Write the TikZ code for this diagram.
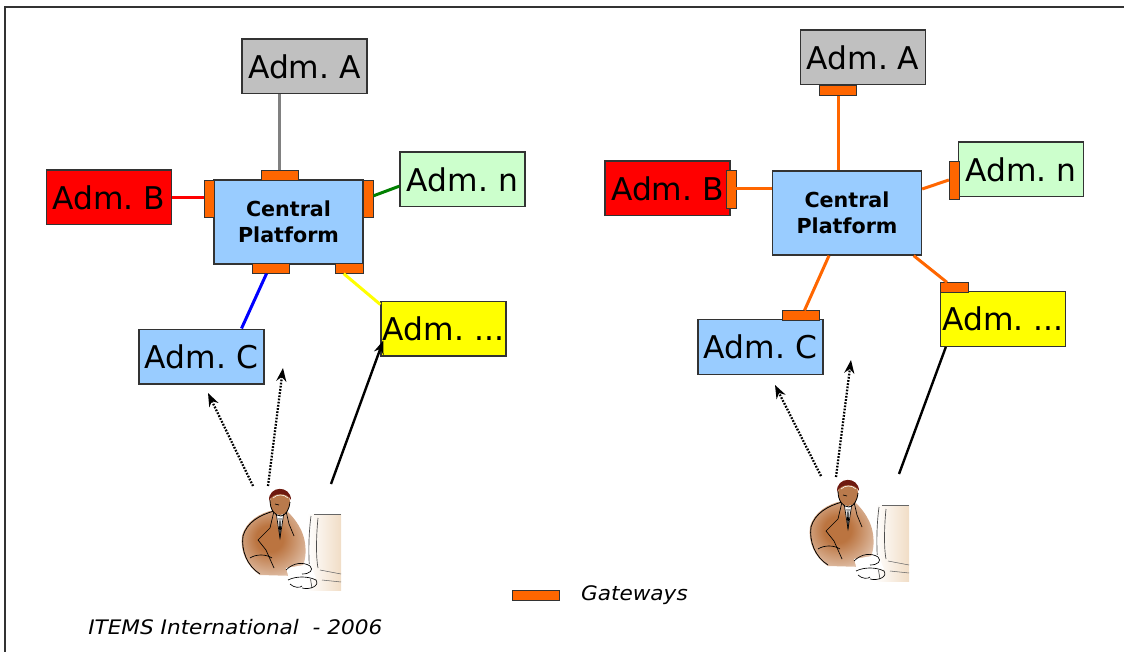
\documentclass[tikz,border=0pt]{standalone}
\usepackage{fontspec}
\setmainfont{DejaVu Sans}
\newfontfamily\notefont[FakeStretch=1.08]{DejaVu Sans}
\usetikzlibrary{positioning, arrows.meta, calc}

\definecolor{boxline}{HTML}{333333}
\definecolor{admgray}{HTML}{C0C0C0}
\definecolor{admred}{HTML}{FF0000}
\definecolor{admgreen}{HTML}{CCFFCC}
\definecolor{platblue}{HTML}{99CCFF}
\definecolor{admyellow}{HTML}{FFFF00}
\definecolor{gateorange}{HTML}{FF6600}
\definecolor{jacket}{HTML}{BB7440}
\definecolor{skin}{HTML}{B97A4C}
\definecolor{hair}{HTML}{6E1A10}
\definecolor{screen}{HTML}{F1DDC6}

\pgfdeclareradialshading{jacketglow}{\pgfpoint{-4bp}{4bp}}{%
  color(0bp)=(jacket); color(10bp)=(jacket); color(26bp)=(jacket!55);
  color(40bp)=(white); color(60bp)=(white)}

\tikzset{
  adm/.style={draw=boxline, line width=1pt, minimum width=93.75pt, minimum height=41pt,
    inner sep=0pt, font=\fontsize{23.5}{28}\selectfont},
  central/.style={draw=boxline, fill=platblue, line width=1pt, minimum width=111.75pt,
    minimum height=63pt, inner sep=0pt, align=center,
    font=\bfseries\fontsize{15.5}{19.5}\selectfont},
  gateh/.style={draw=boxline, fill=gateorange, line width=0.7pt, minimum width=27.75pt,
    minimum height=7pt, inner sep=0pt},
  gatev/.style={draw=boxline, fill=gateorange, line width=0.7pt, minimum width=7.5pt,
    minimum height=27.75pt, inner sep=0pt},
  link/.style={line width=2.25pt},
  hint/.style={line width=1.7pt, dash pattern=on 1.3pt off 1.1pt,
    -{Stealth[length=10pt,width=7.5pt]}},
  access/.style={line width=1.8pt},
  note/.style={font=\notefont\itshape\fontsize{15}{18}\selectfont, inner sep=0pt},
  % man at his desk
  clerk/.pic={
    \shade[shading=jacketglow]
      (-6,22) .. controls (-20,25) and (-34,33) .. (-38,48)
      .. controls (-40,62) and (-34,78) .. (-20,87) -- (16,88)
      .. controls (28,78) and (28,54) .. (20,40)
      .. controls (16,32) and (10,26) .. (6,22) -- cycle;
    \draw[line width=0.6pt]
      (-6,23) .. controls (-20,27) and (-33,34) .. (-37,48)
      .. controls (-39,62) and (-33,78) .. (-20,86);
    \draw[line width=0.5pt] (-6,23) -- (-10,40) -- (-22,52) -- (-14,62) -- (-6,80);
    \draw[line width=0.5pt] (6,23) -- (9,36) -- (14,48);
    \fill[white] (-4,24) -- (0,50) -- (4,24) -- cycle;
    \draw[line width=0.5pt] (-4,24) -- (0,50) -- (4,24);
    \draw[line width=0.5pt] (-1,30) -- (0,50) -- (1,30);
    \draw[line width=0.5pt] (-30,70) .. controls (-24,66) and (-14,66) .. (-8,70);
    % head and hair
    \fill[skin] (0,14) ellipse [x radius=10, y radius=13];
    \draw[line width=0.6pt] (-10,12) .. controls (-10,22) and (-5,28) .. (1,28)
      .. controls (6,27) and (9,22) .. (10,14);
    \fill[hair] (-11,13) .. controls (-12,-3) and (11,-3) .. (11,12)
      .. controls (8,4) and (-8,4) .. cycle;
    \draw[line width=0.4pt, white] (-7,10) .. controls (-3,6) and (4,6) .. (8,10);
    \draw[line width=0.5pt] (-5,16) -- (-1,17);
    % monitor
    \shade[left color=white, right color=screen] (27,26) rectangle (61,102);
    \draw[line width=0.5pt, black!70] (31,28) .. controls (28,50) and (28,80) .. (32,100);
    \draw[line width=0.5pt, black!70] (38,30) .. controls (36,50) and (36,70) .. (38,80);
    \draw[line width=0.4pt, black!60] (34,26) -- (61,26);
    \draw[line width=0.4pt, black!60] (40,82) -- (61,86);
    \draw[line width=0.4pt, black!60] (42,92) -- (61,94);
    % hands and keyboard
    \fill[white] (6,80) -- (30,76) -- (36,90) -- (10,94) -- cycle;
    \draw[line width=0.5pt] (6,82) .. controls (14,74) and (24,74) .. (30,78)
      .. controls (34,82) and (30,86) .. (22,86);
    \draw[line width=0.5pt] (8,92) .. controls (16,88) and (28,88) .. (36,92)
      .. controls (40,98) and (30,102) .. (22,100);
    \draw[line width=0.5pt] (10,96) .. controls (14,100) and (20,100) .. (22,98);
  }
}

\begin{document}
\begin{tikzpicture}[x=0.75pt, y=-0.75pt]
  \useasboundingbox (0,0) rectangle (1124,652);
  \draw[line width=1.5pt, boxline] (5,652) -- (5,7) -- (1124,7);

  % Shared platform, one gateway per administration on the platform
  \node[adm, fill=admgray]   (admAL) at (304.5,66.5)  {Adm.~A};
  \node[adm, fill=admred]    (admBL) at (109,197.5)   {Adm.~B};
  \node[adm, fill=admgreen]  (admNL) at (462.5,179.5) {Adm.~n};
  \node[adm, fill=platblue]  (admCL) at (201.5,356.5) {Adm.~C};
  \node[adm, fill=admyellow] (admXL) at (443.5,328.5) {Adm.~...};
  \node[central] (cpL) at (288.5,222) {Central\\Platform};

  \node[gateh, minimum width=27.75pt] (gTopL)  at (279.5,175.5) {};
  \node[gatev] (gLeftL)  at (209,198.5) {};
  \node[gatev] (gRightL) at (368,198.5) {};
  \node[gateh] (gBotLL) at (270.5,268.5) {};
  \node[gateh, minimum width=21pt] (gBotRL) at (349,268.5) {};

  \draw[link, gray]      (gTopL.north |- admAL.south) -- (gTopL.north);
  \draw[link, admred]    (admBL.east) -- (admBL.east -| gLeftL.west);
  \draw[link, green!50!black] ([yshift=2pt]gRightL.east) -- ([yshift=-5pt]admNL.west);
  \draw[link, blue]      ([xshift=-3pt]gBotLL.south) -- ([xshift=30pt]admCL.north);
  \draw[link, admyellow] ([xshift=-4pt]gBotRL.south) -- ([yshift=-3pt]admXL.north west);

  % Gateways on each administration side
  \node[adm, fill=admgray]   (admAR) at (863,57.5)   {Adm.~A};
  \node[adm, fill=admred]    (admBR) at (667.5,188.5) {Adm.~B};
  \node[adm, fill=admgreen]  (admNR) at (1021,169.5) {Adm.~n};
  \node[adm, fill=platblue]  (admCR) at (760.5,347)  {Adm.~C};
  \node[adm, fill=admyellow] (admXR) at (1003,319)   {Adm.~...};
  \node[central] (cpR) at (847,213) {Central\\Platform};

  \node[gateh] (gAR) at (838,90.5)  {};
  \node[gatev, minimum height=28.5pt] (gBR) at (731,189)   {};
  \node[gatev, minimum height=28.5pt] (gNR) at (954.3,180) {};
  \node[gateh] (gCR) at (800.5,315.5) {};
  \node[gateh, minimum width=20.5pt] (gXR) at (954.3,287.5) {};

  \draw[link, gateorange] (gAR.south) -- (gAR.south |- cpR.north);
  \draw[link, gateorange] (gBR.east) -- (gBR.east -| cpR.west);
  \draw[link, gateorange] ([yshift=18pt]cpR.east) -- (gNR.west);
  \draw[link, gateorange] ([xshift=-13.5pt]cpR.south) -- ([xshift=3pt]gCR.north);
  \draw[link, gateorange] ([xshift=50pt]cpR.south) -- ([xshift=-5.5pt]gXR.north);

  % Users reaching the administrations
  \coordinate (clerkL) at (280,488);
  \coordinate (clerkR) at (848,479);
  \pic at (clerkL) {clerk};
  \pic at (clerkR) {clerk};

  \draw[hint] ($(clerkL)+(-27,-2)$) -- ($(clerkL)+(-72,-95)$);
  \draw[hint] ($(clerkL)+(-12,-2)$) -- ($(clerkL)+(3,-120)$);
  \draw[access, -{Stealth[length=10pt,width=7.5pt]}] ($(clerkL)+(51,-4)$) -- ([xshift=2.25pt,yshift=12pt]admXL.south west);
  \draw[hint] ($(clerkR)+(-27,-3)$) -- ($(clerkR)+(-73,-94)$);
  \draw[hint] ($(clerkR)+(-12,-2)$) -- ($(clerkR)+(3,-119)$);
  \draw[access] ($(clerkR)+(51,-5)$) -- ([xshift=4.5pt]admXR.south west);

  % Legend and credit
  \node[gateh, minimum width=35.25pt, minimum height=8pt] (gwkey) at (535.5,595.5) {};
  \node[note, anchor=west, right=16pt of gwkey] (gwlabel) {Gateways};
  \node[note, anchor=base west] (credit) at (88,634) {ITEMS International~~- 2006};
\end{tikzpicture}
\end{document}
